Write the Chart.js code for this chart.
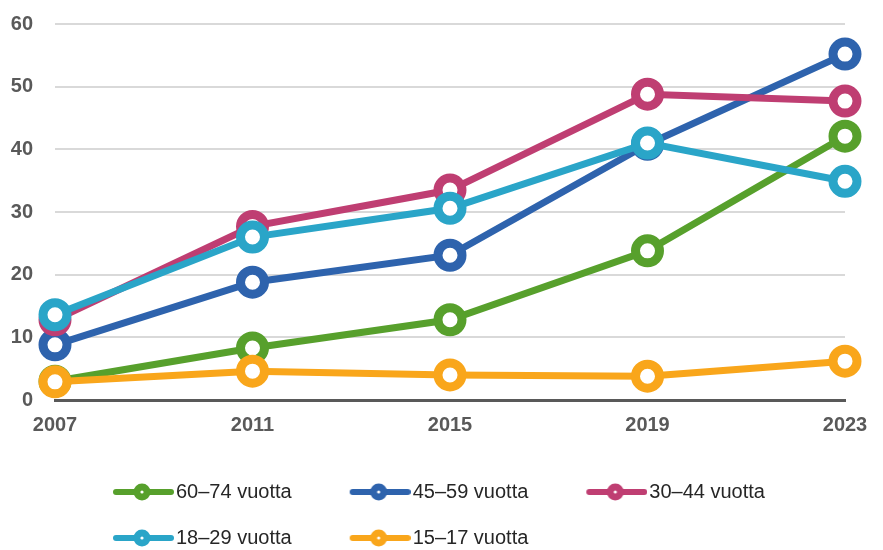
<!DOCTYPE html>
<html>
<head>
<meta charset="utf-8">
<script src="https://cdn.jsdelivr.net/npm/chart.js@4/dist/chart.umd.min.js"></script>
<style>
  html, body { margin: 0; padding: 0; background: #fff; }
  #wrap { width: 883px; height: 550px; }
</style>
</head>
<body>
<div id="wrap"><canvas id="chart"></canvas></div>
<script>
// data
const years = ["2007", "2011", "2015", "2019", "2023"];
const seriesNames = ["60–74 vuotta", "45–59 vuotta", "30–44 vuotta", "18–29 vuotta", "15–17 vuotta"];
const age60to74 = [3.0, 8.3, 12.8, 23.8, 42.1];
const age45to59 = [8.8, 18.8, 23.1, 40.8, 55.2];
const age30to44 = [12.8, 27.7, 33.5, 48.8, 47.7];
const age18to29 = [13.6, 26.0, 30.6, 41.0, 34.9];
const age15to17 = [2.9, 4.6, 4.0, 3.8, 6.2];
const yTicks = [0, 10, 20, 30, 40, 50, 60];

const colors = ["#57a02c", "#2e63ad", "#bf3e72", "#2aa5c8", "#f9a61b"];
const values = [age60to74, age45to59, age30to44, age18to29, age15to17];

// legend icon: thick line with a dot in the middle
function legendIcon(color) {
  const c = document.createElement("canvas");
  c.width = 101;
  c.height = 20;
  const g = c.getContext("2d");
  g.strokeStyle = color;
  g.lineWidth = 6;
  g.lineCap = "round";
  g.beginPath();
  g.moveTo(43, 10);
  g.lineTo(98, 10);
  g.stroke();
  g.fillStyle = color;
  g.beginPath();
  g.arc(69, 10, 8.5, 0, Math.PI * 2);
  g.fill();
  g.fillStyle = "#fff";
  g.beginPath();
  g.arc(69, 10, 1.6, 0, Math.PI * 2);
  g.fill();
  return c;
}

const datasets = seriesNames.map((name, i) => ({
  label: name,
  data: values[i],
  borderColor: colors[i],
  backgroundColor: "#fff",
  borderWidth: 7,
  pointRadius: 12,
  pointHoverRadius: 12,
  pointBorderWidth: 9,
  pointBackgroundColor: "#fff",
  pointBorderColor: colors[i],
  pointStyle: "circle",
  icon: legendIcon(colors[i]),
  tension: 0,
  order: seriesNames.length - i
}));

const tickFont = { family: "'Liberation Sans', Arial, sans-serif", size: 20, weight: "bold" };

new Chart(document.getElementById("chart"), {
  type: "line",
  data: { labels: years, datasets: datasets },
  options: {
    responsive: true,
    maintainAspectRatio: false,
    animation: false,
    layout: { padding: { top: 24, right: 38, left: 0, bottom: 0 } },
    scales: {
      x: {
        offset: false,
        grid: { display: false, drawTicks: false },
        border: { display: true, color: "#595959", width: 3 },
        ticks: { padding: 13, color: "#595959", font: tickFont, maxRotation: 0 },
        afterFit: s => { s.height = 56; }
      },
      y: {
        min: 0,
        max: 60,
        afterBuildTicks: s => { s.ticks = yTicks.map(v => ({ value: v })); },
        grid: {
          drawTicks: false,
          color: c => c.tick && c.tick.value === 0 ? "#595959" : "#d9d9d9",
          lineWidth: c => c.tick && c.tick.value === 0 ? 3 : 2
        },
        border: { display: false },
        ticks: { padding: 22, color: "#595959", font: tickFont },
        afterFit: s => { s.width = 55; s.paddingTop = 0; s.paddingBottom = 0; }
      }
    },
    plugins: {
      tooltip: { enabled: false },
      legend: {
        position: "bottom",
        align: "start",
        fullSize: false,
        maxHeight: 94,
        labels: {
          usePointStyle: true,
          pointStyleWidth: 85,
          padding: 26,
          color: "#262626",
          font: { family: "'Liberation Sans', Arial, sans-serif", size: 20 },
          generateLabels: chart => chart.data.datasets.map((d, i) => ({
            text: d.label,
            datasetIndex: i,
            pointStyle: d.icon,
            fillStyle: d.borderColor,
            strokeStyle: d.borderColor,
            lineWidth: 0,
            hidden: false,
            fontColor: "#262626"
          }))
        }
      }
    }
  }
});
</script>
</body>
</html>
